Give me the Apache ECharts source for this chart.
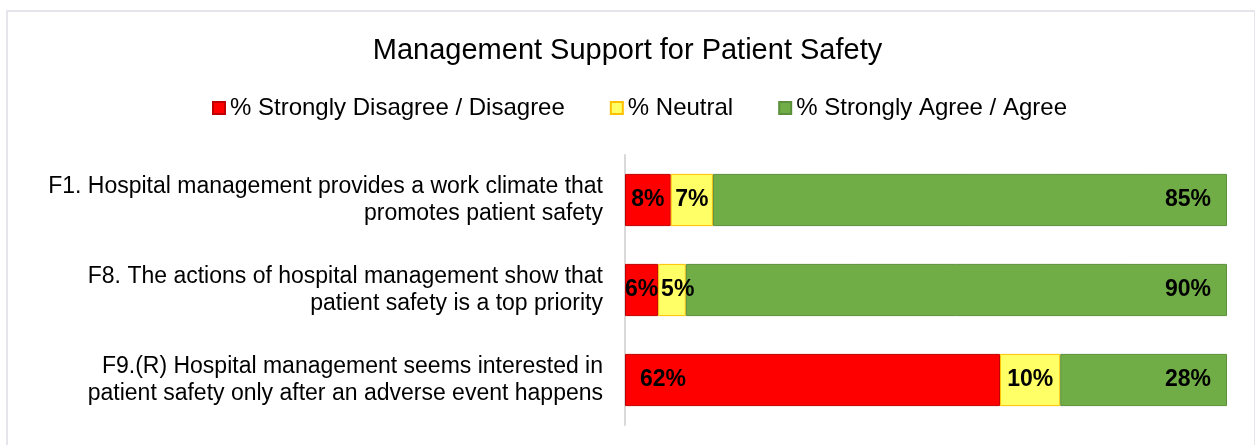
<!DOCTYPE html>
<html>
<head>
<meta charset="utf-8">
<script src="https://cdn.jsdelivr.net/npm/echarts@6/dist/echarts.min.js"></script>
<style>
  body { margin: 0; background: #fff; }
  #frame { position: absolute; left: 6px; top: 10px; width: 1246px; height: 450px; border: 2px solid #E4E6EC; border-bottom: none; }
  #chart { position: absolute; left: 0; top: 0; width: 1255px; height: 445px; }
</style>
</head>
<body>
<div id="frame"></div>
<div id="chart"></div>
<script>
// questions (top to bottom)
var categories = [
  'F1. Hospital management provides a work climate that\npromotes patient safety',
  'F8. The actions of hospital management show that\npatient safety is a top priority',
  'F9.(R) Hospital management seems interested in\npatient safety only after an adverse event happens'
];
var disagree = [7.6, 5.5, 62.3];
var neutral = [7.0, 4.6, 10.0];
var agree = [85.4, 89.9, 27.7];

var font = 'Arial, "Liberation Sans", sans-serif';

function pct(p) { return Math.round(p.value) + '%'; }

// small segments get their labels placed like Excel does
function redItems(arr) {
  return arr.map(function (v) {
    return v > 20 ? { value: v, label: { position: 'insideLeft', distance: 15 } }
                  : { value: v, label: { position: 'inside' } };
  });
}
function yellowItems(arr) {
  return arr.map(function (v) {
    return v < 6 ? { value: v, label: { position: 'insideLeft', distance: 3 } }
                 : { value: v, label: { position: 'inside' } };
  });
}

function makeSeries(name, data, color, border, pos, dist) {
  return {
    name: name,
    type: 'bar',
    stack: 'all',
    barWidth: '58%',
    data: data,
    itemStyle: { color: color, borderColor: border, borderWidth: 1 },
    label: {
      show: true,
      position: pos,
      distance: dist,
      formatter: pct,
      color: '#000',
      fontWeight: 'bold',
      fontSize: 23,
      fontFamily: font
    }
  };
}

var myChart = echarts.init(document.getElementById('chart'));
myChart.setOption({
  animation: false,
  title: {
    text: 'Management Support for Patient Safety',
    left: 'center',
    top: 31,
    textStyle: { fontSize: 29, fontWeight: 'normal', color: '#000', fontFamily: font }
  },
  legend: {
    top: 91,
    left: 207,
    itemWidth: 12,
    itemHeight: 12,
    itemGap: 45,
    icon: 'rect',
    textStyle: { fontSize: 24, color: '#000', fontFamily: font, padding: [0, 0, 0, 0] },
    data: ['% Strongly Disagree / Disagree', '% Neutral', '% Strongly Agree / Agree']
  },
  grid: { left: 625, right: 28, top: 155, bottom: 20 },
  xAxis: {
    type: 'value',
    min: 0,
    max: 100,
    show: false
  },
  yAxis: {
    type: 'category',
    inverse: true,
    data: categories,
    axisLine: { show: true, lineStyle: { color: '#D9D9D9', width: 2 } },
    axisTick: { show: false },
    axisLabel: {
      margin: 22,
      fontSize: 23,
      lineHeight: 27,
      color: '#000',
      fontFamily: font,
      align: 'right'
    }
  },
  series: [
    makeSeries('% Strongly Disagree / Disagree', redItems(disagree), '#FF0000', '#C00000', 'inside', 5),
    makeSeries('% Neutral', yellowItems(neutral), '#FFFF66', '#FFC000', 'inside', 5),
    makeSeries('% Strongly Agree / Agree', agree, '#70AD47', '#5B8F3A', 'insideRight', 16)
  ]
});
</script>
</body>
</html>
